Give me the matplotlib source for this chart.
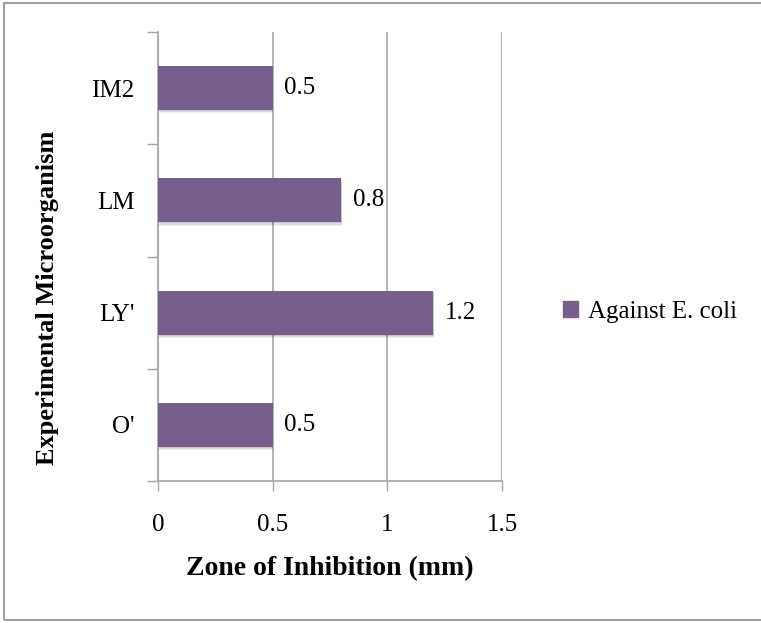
import matplotlib.pyplot as plt
from matplotlib.patches import Rectangle, Patch

# zone of inhibition against E. coli, per organism (bottom to top)
organisms = ["O'", "LY'", "LM", "IM2"]
zones_mm = [0.5, 1.2, 0.8, 0.5]
series_label = "Against E. coli"

bar_color = "#765F8C"
grid_color = "#A6A6A6"
serif = ["Liberation Serif", "DejaVu Serif"]

plt.rcParams["font.family"] = serif

fig = plt.figure(figsize=(7.61, 6.23), dpi=100)
ax = fig.add_axes([158 / 761, 1 - 481 / 623, (502 - 158) / 761, (481 - 32) / 623])

ypos = list(range(len(organisms)))

# soft drop shadow under each bar
for off, alpha in [(0.03, 0.06), (0.02, 0.08), (0.01, 0.10)]:
    ax.barh([y - off for y in ypos], [z + 0.003 for z in zones_mm], height=0.39,
            color="black", alpha=alpha, linewidth=0, zorder=2)
bars = ax.barh(ypos, zones_mm, height=0.39, color=bar_color, zorder=3)

for y, z in zip(ypos, zones_mm):
    ax.text(z + 0.05, y, f"{z:g}", va="center", ha="left", fontsize=18, zorder=4)

ax.set_xlim(0, 1.5)
ax.set_ylim(-0.5, len(organisms) - 0.5)
ax.set_xticks([0, 0.5, 1, 1.5])
ax.set_xticklabels(["0", "0.5", "1", "1.5"])
ax.set_yticks(ypos)
ax.set_yticklabels(organisms)
# category ticks sit on the boundaries between bars
ax.set_yticks([y - 0.5 for y in ypos] + [len(organisms) - 0.5], minor=True)
ax.tick_params(axis="y", which="major", length=0, pad=17, labelsize=18)
ax.tick_params(axis="y", which="minor", length=8, width=1, color=grid_color)
ax.tick_params(axis="x", length=7, width=1, color=grid_color, pad=17, labelsize=18)

ax.xaxis.grid(True, color=grid_color, linewidth=1.2, zorder=0)
ax.set_axisbelow(True)
for side in ["top", "right"]:
    ax.spines[side].set_visible(False)
for side in ["left", "bottom"]:
    ax.spines[side].set_color(grid_color)
    ax.spines[side].set_linewidth(1.2)

ax.set_xlabel("Zone of Inhibition (mm)", fontsize=20, fontweight="bold", labelpad=14)
ax.set_ylabel("Experimental Microorganism", fontsize=19, fontweight="bold")
ax.yaxis.set_label_coords(-(158 - 59) / 344, 1 - (298 - 32) / 449)

ax.legend(handles=[Patch(color=bar_color, label=series_label)],
          loc="center left", bbox_to_anchor=(540 / 761, 1 - 312 / 623),
          bbox_transform=fig.transFigure, frameon=False, fontsize=18,
          handlelength=0.62, handleheight=0.62, handletextpad=0.4)

# chart frame
fig.patches.append(Rectangle((4 / 761, 3 / 623), 1.0, 617 / 623, transform=fig.transFigure,
                             fill=False, edgecolor="#A0A0A0", linewidth=1.5))

fig.savefig("out.png", dpi=100)
